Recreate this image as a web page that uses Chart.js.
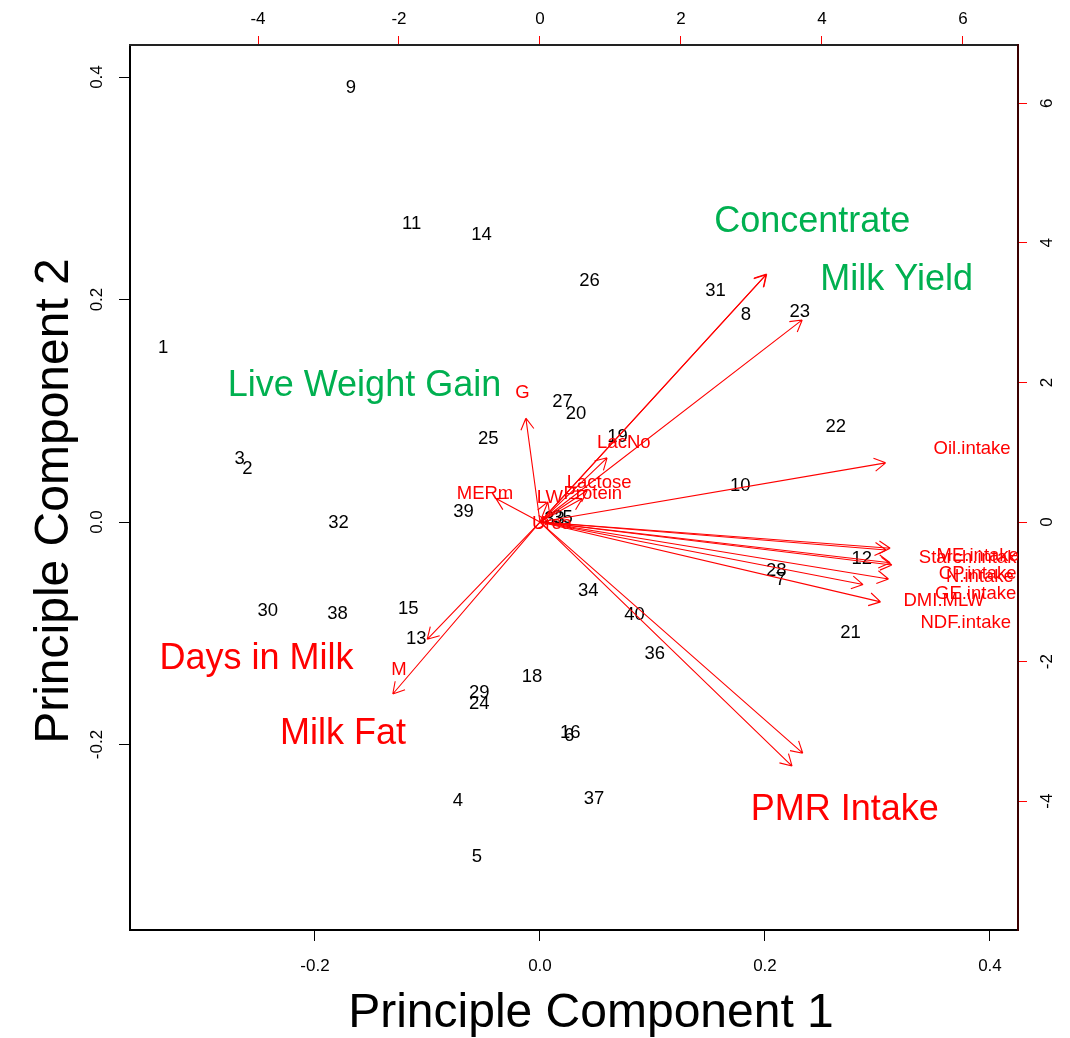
<!DOCTYPE html>
<html>
<head>
<meta charset="utf-8">
<script src="https://cdn.jsdelivr.net/npm/chart.js@4.4.0/dist/chart.umd.min.js"></script>
<style>
html,body{margin:0;padding:0;background:#fff;}
canvas{display:block;}
</style>
</head>
<body>
<canvas id="pca" width="1070" height="1038"></canvas>
<script>
// cow scores on PC1 / PC2 (bottom + left axes)
const cowIds = ['1','2','3','4','5','6','7','8','9','10','11','12','13','14','15','16','18','19','20',
  '21','22','23','24','25','26','27','28','29','30','31','32','33','34','35','36','37','38','39','40'];
const pc1 = [-0.335,-0.260,-0.267,-0.073,-0.056,0.026,0.214,0.183,-0.168,0.178,-0.114,0.286,-0.110,-0.052,-0.117,0.027,-0.007,0.069,0.032,
  0.276,0.263,0.231,-0.054,-0.046,0.044,0.020,0.210,-0.054,-0.242,0.156,-0.179,0.013,0.043,0.020,0.102,0.048,-0.180,-0.068,0.084];
const pc2 = [0.157,0.049,0.058,-0.250,-0.300,-0.191,-0.051,0.187,0.391,0.033,0.269,-0.032,-0.104,0.259,-0.077,-0.189,-0.138,0.077,0.098,
  -0.099,0.086,0.190,-0.163,0.076,0.218,0.109,-0.043,-0.153,-0.079,0.209,0.000,0.004,-0.061,0.005,-0.118,-0.248,-0.082,0.010,-0.083];

// variable loadings (top + right axes). labels sit at the loading, arrows go to 0.8 of it
const varNames = ['G','LacNo','Lactose','Protein','LW','MERm','Urea','Oil.intake','ME.intake','Starch.intake',
  'CP.intake','N.intake','GE.intake','DMI.MLW','NDF.intake','M','','','','','',''];
const loadX = [-0.25,1.19,0.84,0.75,0.14,-0.78,0.17,6.13,6.21,6.14,6.21,6.24,6.18,5.73,6.04,-2.00,4.02,4.01,4.65,4.66,4.47,-2.61];
const loadY = [1.86,1.15,0.57,0.42,0.36,0.42,-0.01,1.06,-0.47,-0.50,-0.73,-0.77,-1.02,-1.12,-1.43,-2.10,4.44,4.43,3.62,-4.14,-4.37,-3.08];

const pcTicks = [-0.2, 0.0, 0.2, 0.4];
const loadTicks = [-4, -2, 0, 2, 4, 6];
const xLim = [-0.3644, 0.4249];
const yLim = [-0.3667, 0.4288];
const xMult = 15.96, yMult = 15.94;

// big overlay captions, placed in PC units
const notes = [
  {text:'Concentrate', x:0.242, y:0.271, color:'#00b050'},
  {text:'Milk Yield', x:0.317, y:0.219, color:'#00b050'},
  {text:'Live Weight Gain', x:-0.156, y:0.124, color:'#00b050'},
  {text:'Days in Milk', x:-0.252, y:-0.121, color:'#ff0000'},
  {text:'Milk Fat', x:-0.175, y:-0.189, color:'#ff0000'},
  {text:'PMR Intake', x:0.271, y:-0.257, color:'#ff0000'}
];

const FONT = "'Liberation Sans', Arial, sans-serif";

function drawArrow(ctx, x0, y0, x1, y1){
  const ang = Math.atan2(y1 - y0, x1 - x0), len = 13;
  ctx.beginPath();
  ctx.moveTo(x0, y0); ctx.lineTo(x1, y1);
  [-1, 1].forEach(s => {
    const a = ang + Math.PI + s * Math.PI / 6;
    ctx.moveTo(x1, y1);
    ctx.lineTo(x1 + len * Math.cos(a), y1 + len * Math.sin(a));
  });
  ctx.stroke();
}

const biplotLayer = {
  id: 'biplotLayer',
  afterDatasetsDraw(chart){
    const {ctx, chartArea: a, scales} = chart;
    ctx.save();
    ctx.beginPath(); ctx.rect(a.left, a.top, a.right - a.left, a.bottom - a.top); ctx.clip();
    ctx.textAlign = 'center'; ctx.textBaseline = 'middle';
    // cow numbers
    ctx.fillStyle = '#000'; ctx.font = '18.5px ' + FONT;
    chart.getDatasetMeta(0).data.forEach((pt, i) => ctx.fillText(cowIds[i], pt.x, pt.y + 1));
    // arrows
    const ox = scales.x2.getPixelForValue(0), oy = scales.y2.getPixelForValue(0);
    ctx.strokeStyle = '#ff0000'; ctx.lineWidth = 1.1;
    chart.getDatasetMeta(1).data.forEach(pt => drawArrow(ctx, ox, oy, pt.x, pt.y));
    ctx.fillStyle = '#ff0000';
    varNames.forEach((n, i) => {
      if(!n) return;
      ctx.fillText(n, scales.x2.getPixelForValue(loadX[i]), scales.y2.getPixelForValue(loadY[i]) + 1);
    });
    ctx.restore();
  },
  afterDraw(chart){
    const {ctx, scales} = chart;
    ctx.save();
    ctx.fillStyle = '#000'; ctx.textAlign = 'center'; ctx.textBaseline = 'middle';
    ctx.font = '17px ' + FONT;
    // vertical tick labels, rotated like R does
    scales.y.ticks.forEach(t => {
      ctx.save(); ctx.translate(97, scales.y.getPixelForValue(t.value)); ctx.rotate(-Math.PI / 2);
      ctx.fillText(t.value.toFixed(1), 0, 0); ctx.restore();
    });
    scales.y2.ticks.forEach(t => {
      ctx.save(); ctx.translate(1047, scales.y2.getPixelForValue(t.value)); ctx.rotate(-Math.PI / 2);
      ctx.fillText(String(t.value), 0, 0); ctx.restore();
    });
    // axis titles
    ctx.font = '48px ' + FONT;
    ctx.fillText('Principle Component 1', 591, 1014);
    ctx.save(); ctx.translate(55, 501); ctx.rotate(-Math.PI / 2);
    ctx.fillText('Principle Component 2', 0, 0); ctx.restore();
    // captions
    ctx.font = '36px ' + FONT;
    notes.forEach(n => {
      ctx.fillStyle = n.color;
      ctx.fillText(n.text, scales.x.getPixelForValue(n.x), scales.y.getPixelForValue(n.y) + 2);
    });
    ctx.restore();
  }
};

const setTicks = vals => s => { s.ticks = vals.map(v => ({value: v})); };

new Chart(document.getElementById('pca'), {
  type: 'scatter',
  data: {
    datasets: [
      {label: 'cows', data: pc1.map((v, i) => ({x: v, y: pc2[i]})), xAxisID: 'x', yAxisID: 'y', pointRadius: 0},
      {label: 'loadings', data: loadX.map((v, i) => ({x: v * 0.8, y: loadY[i] * 0.8})), xAxisID: 'x2', yAxisID: 'y2', pointRadius: 0}
    ]
  },
  options: {
    responsive: false, animation: false, devicePixelRatio: 1,
    layout: {padding: 0},
    plugins: {legend: {display: false}, tooltip: {enabled: false}},
    scales: {
      x: {
        type: 'linear', position: 'bottom', min: xLim[0], max: xLim[1],
        afterBuildTicks: setTicks(pcTicks), afterFit: s => { s.height = 108; },
        grid: {drawOnChartArea: false, tickLength: 11, tickColor: '#000'},
        border: {color: '#000', width: 2},
        ticks: {color: '#000', font: {family: FONT, size: 17}, padding: 15, autoSkip: false, maxRotation: 0,
          callback: v => v.toFixed(1)}
      },
      y: {
        type: 'linear', position: 'left', min: yLim[0], max: yLim[1],
        afterBuildTicks: setTicks(pcTicks), afterFit: s => { s.width = 130; },
        grid: {drawOnChartArea: false, tickLength: 11, tickColor: '#000'},
        border: {color: '#000', width: 2},
        ticks: {display: false}
      },
      x2: {
        type: 'linear', position: 'top', min: xLim[0] * xMult, max: xLim[1] * xMult,
        afterBuildTicks: setTicks(loadTicks), afterFit: s => { s.height = 45; },
        grid: {drawOnChartArea: false, tickLength: 9, tickColor: '#ff0000'},
        border: {color: '#222', width: 2},
        ticks: {color: '#000', font: {family: FONT, size: 17}, padding: 6, autoSkip: false, maxRotation: 0,
          callback: v => String(v)}
      },
      y2: {
        type: 'linear', position: 'right', min: yLim[0] * yMult, max: yLim[1] * yMult,
        afterBuildTicks: setTicks(loadTicks), afterFit: s => { s.width = 52; },
        grid: {drawOnChartArea: false, tickLength: 9, tickColor: '#ff0000'},
        border: {color: '#3a0000', width: 2},
        ticks: {display: false}
      }
    }
  },
  plugins: [biplotLayer]
});
</script>
</body>
</html>
